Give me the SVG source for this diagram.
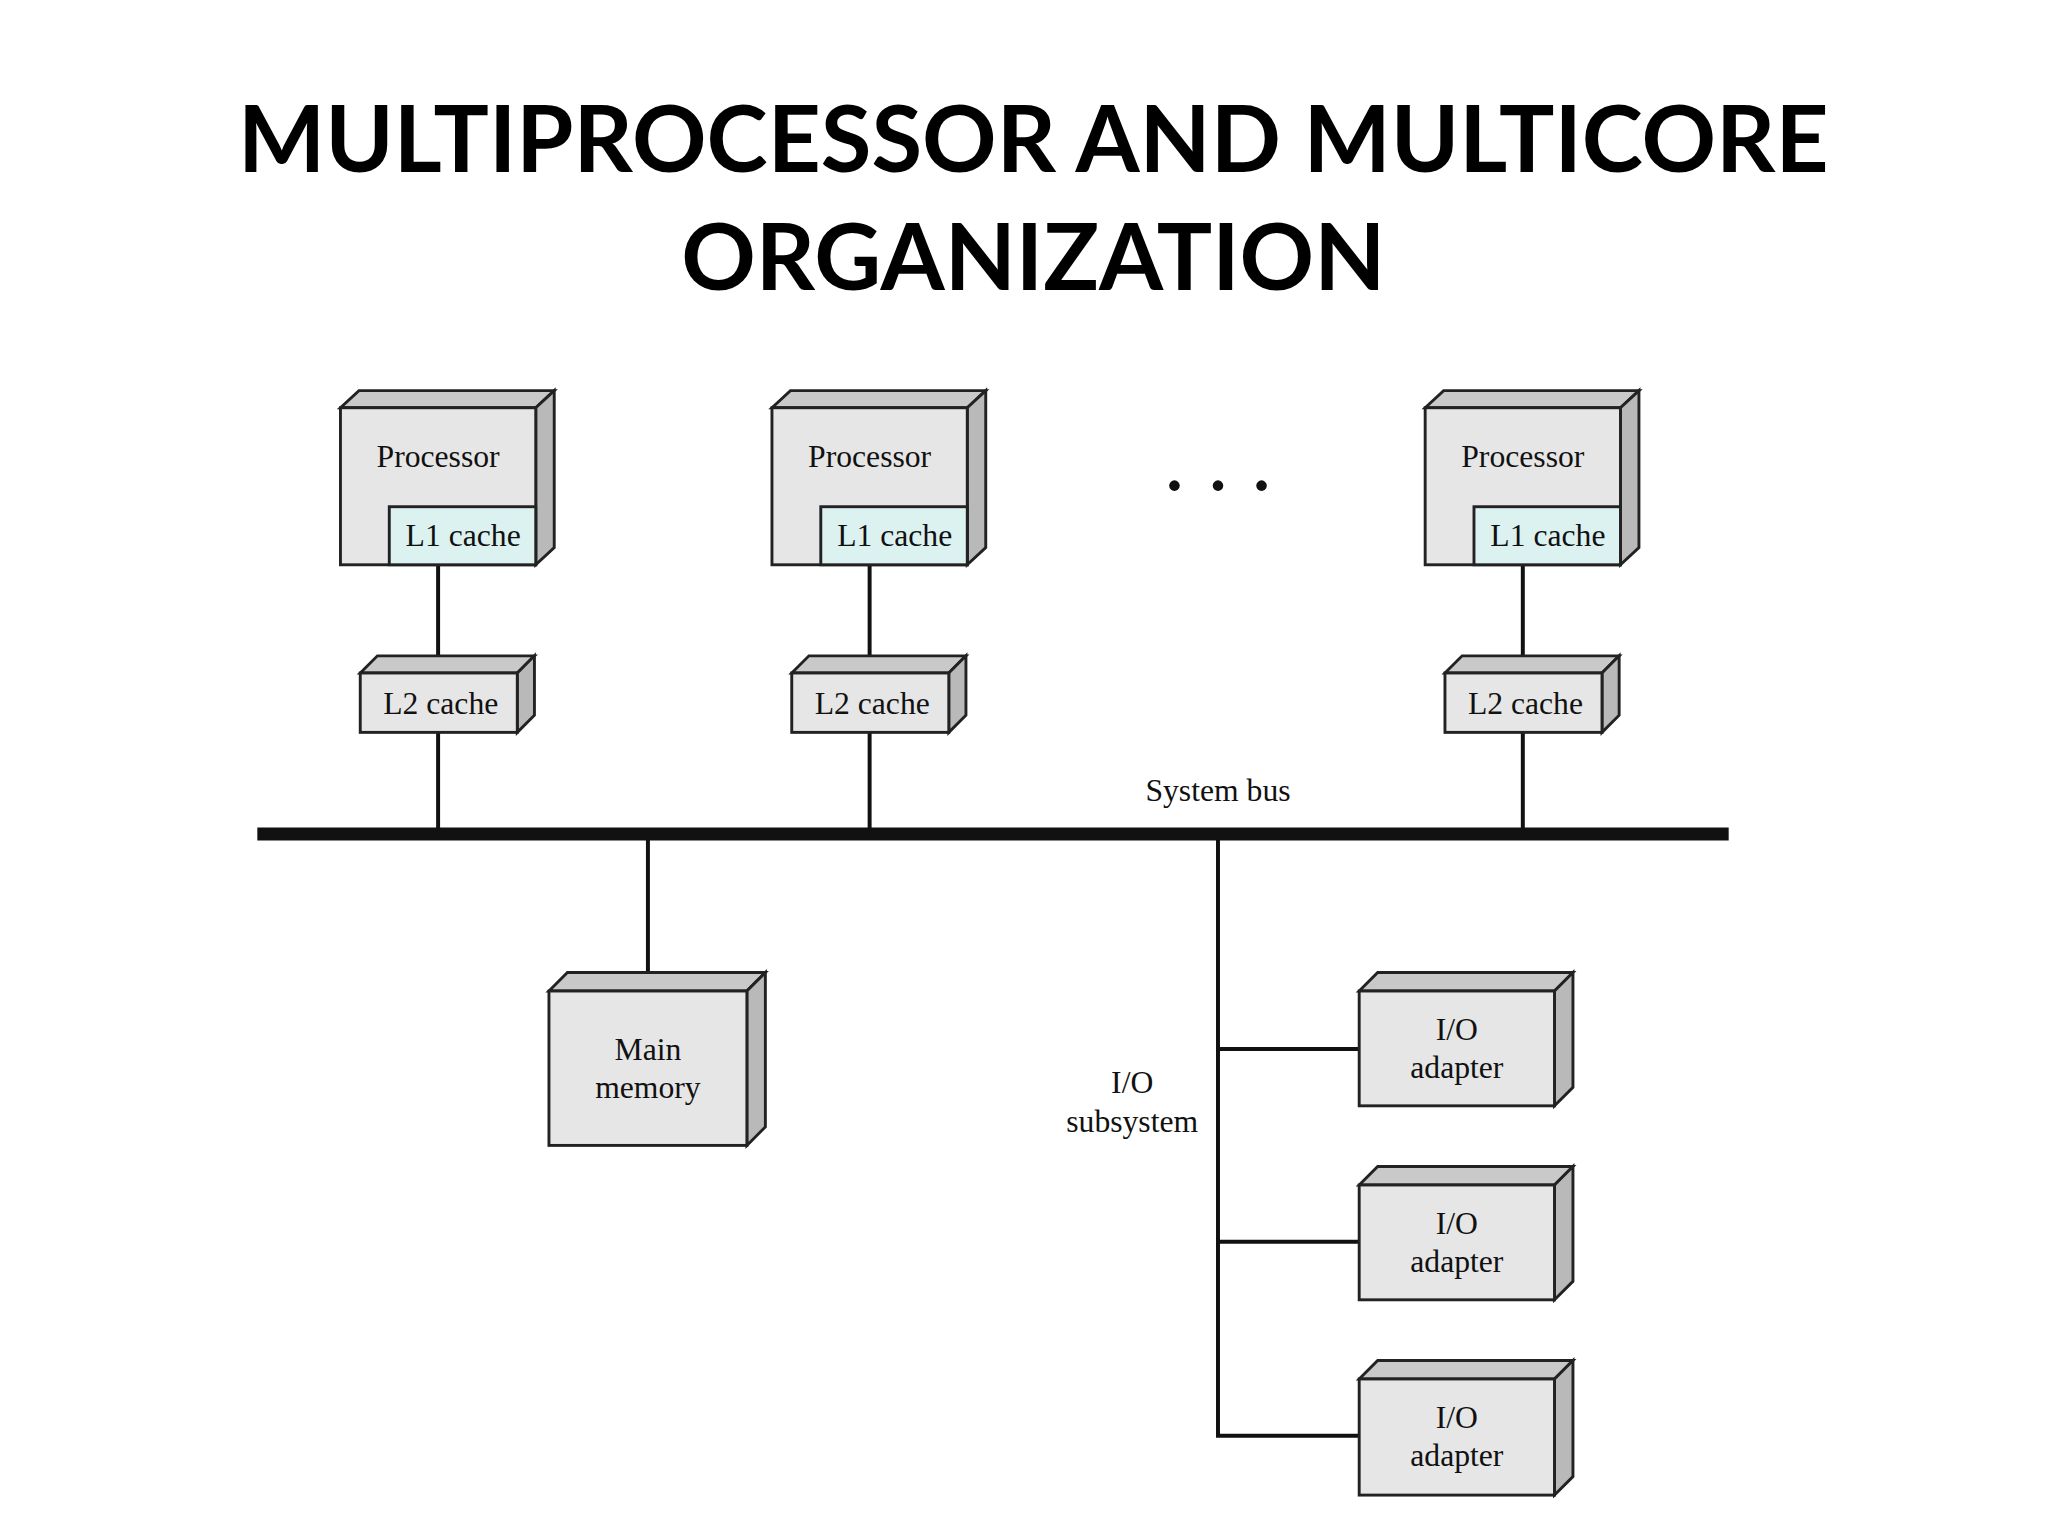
<svg xmlns="http://www.w3.org/2000/svg" width="2048" height="1536" viewBox="0 0 2048 1536">
<style>
.f{fill:#e6e6e6;stroke:#222;stroke-width:2.2}
.t{fill:#c9c9c9;stroke:#222;stroke-width:2.2}
.s{fill:#b9b9b9;stroke:#222;stroke-width:2.2}
.c{fill:#dcf2f1;stroke:#222;stroke-width:2.2}
.lbl{font-family:"Liberation Serif",serif;font-size:24px;fill:#111;text-anchor:middle}
.ln{stroke:#111;stroke-width:3;fill:none}
.title{font-family:Lato,"Liberation Sans",sans-serif;font-weight:bold;font-size:70px;fill:#000;text-anchor:middle}
</style>
<rect width="2048" height="1536" fill="#fff"/>
<g transform="scale(1.3196)">
<text class="title" x="783" y="130">MULTIPROCESSOR AND MULTICORE</text>
<text class="title" x="783" y="220">ORGANIZATION</text>
<g id="connectors">
<line x1="195" y1="632" x2="1310" y2="632" stroke="#111" stroke-width="10"/>
<path class="ln" d="M332 428V510M332 555V632M659 428V510M659 555V632M1154 428V510M1154 555V632M491 632V745M923 632V1088H1030M923 795H1030M923 941H1030"/>
</g>
<g id="p1"><path class="t" d="M258 309L272 296H420L406 309Z"/><path class="s" d="M406 309L420 296V415L406 428Z"/><rect class="f" x="258" y="309" width="148" height="119"/><rect class="c" x="295" y="384" width="111" height="44"/><text class="lbl" x="332" y="354">Processor</text><text class="lbl" x="351" y="414">L1 cache</text></g>
<g id="p2"><path class="t" d="M585 309L599 296H747L733 309Z"/><path class="s" d="M733 309L747 296V415L733 428Z"/><rect class="f" x="585" y="309" width="148" height="119"/><rect class="c" x="622" y="384" width="111" height="44"/><text class="lbl" x="659" y="354">Processor</text><text class="lbl" x="678" y="414">L1 cache</text></g>
<g id="p3"><path class="t" d="M1080 309L1094 296H1242L1228 309Z"/><path class="s" d="M1228 309L1242 296V415L1228 428Z"/><rect class="f" x="1080" y="309" width="148" height="119"/><rect class="c" x="1117" y="384" width="111" height="44"/><text class="lbl" x="1154" y="354">Processor</text><text class="lbl" x="1173" y="414">L1 cache</text></g>
<g id="l2a"><path class="t" d="M273 510L286 497H405L392 510Z"/><path class="s" d="M392 510L405 497V542L392 555Z"/><rect class="f" x="273" y="510" width="119" height="45"/><text class="lbl" x="334" y="541">L2 cache</text></g>
<g id="l2b"><path class="t" d="M600 510L613 497H732L719 510Z"/><path class="s" d="M719 510L732 497V542L719 555Z"/><rect class="f" x="600" y="510" width="119" height="45"/><text class="lbl" x="661" y="541">L2 cache</text></g>
<g id="l2c"><path class="t" d="M1095 510L1108 497H1227L1214 510Z"/><path class="s" d="M1214 510L1227 497V542L1214 555Z"/><rect class="f" x="1095" y="510" width="119" height="45"/><text class="lbl" x="1156" y="541">L2 cache</text></g>
<g id="dots" fill="#111"><circle cx="890" cy="368" r="4"/><circle cx="923" cy="368" r="4"/><circle cx="956" cy="368" r="4"/></g>
<text class="lbl" x="923" y="607">System bus</text>
<g id="mem"><path class="t" d="M416 751L430 737H580L566 751Z"/><path class="s" d="M566 751L580 737V854L566 868Z"/><rect class="f" x="416" y="751" width="150" height="117"/><text class="lbl" x="491" y="803">Main</text><text class="lbl" x="491" y="832">memory</text></g>
<text class="lbl" x="858" y="828">I/O</text><text class="lbl" x="858" y="858">subsystem</text>
<g id="io1"><path class="t" d="M1030 751L1044 737H1192L1178 751Z"/><path class="s" d="M1178 751L1192 737V824L1178 838Z"/><rect class="f" x="1030" y="751" width="148" height="87"/><text class="lbl" x="1104" y="788">I/O</text><text class="lbl" x="1104" y="817">adapter</text></g>
<g id="io2"><path class="t" d="M1030 898L1044 884H1192L1178 898Z"/><path class="s" d="M1178 898L1192 884V971L1178 985Z"/><rect class="f" x="1030" y="898" width="148" height="87"/><text class="lbl" x="1104" y="935">I/O</text><text class="lbl" x="1104" y="964">adapter</text></g>
<g id="io3"><path class="t" d="M1030 1045L1044 1031H1192L1178 1045Z"/><path class="s" d="M1178 1045L1192 1031V1119L1178 1133Z"/><rect class="f" x="1030" y="1045" width="148" height="88"/><text class="lbl" x="1104" y="1082">I/O</text><text class="lbl" x="1104" y="1111">adapter</text></g>
</g>
</svg>
